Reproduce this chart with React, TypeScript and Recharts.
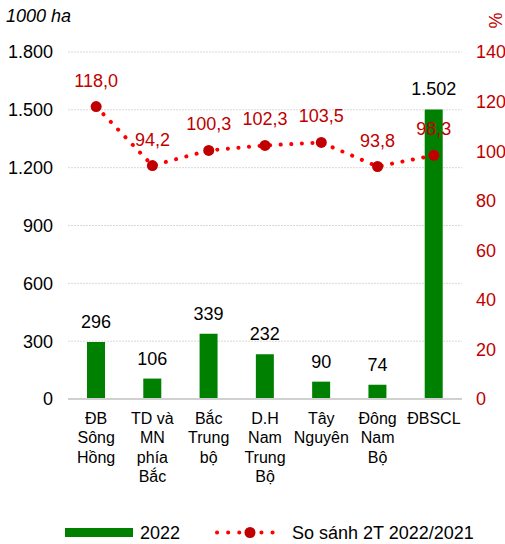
import React from "react";
import {
  ComposedChart,
  Bar,
  Line,
  XAxis,
  YAxis,
  CartesianGrid,
  LabelList,
} from "recharts";

const regions = [
  "ĐB\nSông\nHồng",
  "TD và\nMN\nphía\nBắc",
  "Bắc\nTrung\nbộ",
  "D.H\nNam\nTrung\nBộ",
  "Tây\nNguyên",
  "Đông\nNam\nBộ",
  "ĐBSCL",
];
const area2022 = [296, 106, 339, 232, 90, 74, 1502];
const compare = [118.0, 94.2, 100.3, 102.3, 103.5, 93.8, 98.3];
const leftTicks = [0, 300, 600, 900, 1200, 1500, 1800];
const rightTicks = [0, 20, 40, 60, 80, 100, 120, 140];

const data = regions.map((name, i) => ({
  name,
  area: area2022[i],
  pct: compare[i],
}));

const FONT = "'Liberation Sans', Arial, sans-serif";
const GREEN = "#008000";
const RED = "#ff0000";
const DARK_RED = "#c00000";

const fmtInt = (v: number) =>
  String(v).replace(/\B(?=(\d{3})+(?!\d))/g, ".");
const fmtDec = (v: number) => v.toFixed(1).replace(".", ",");

function RegionTick(props: any) {
  const { x, y, payload } = props;
  const lines = String(payload.value).split("\n");
  return (
    <text x={x} y={y} textAnchor="middle" fill="#000" fontSize={16} fontFamily={FONT}>
      {lines.map((l, i) => (
        <tspan key={i} x={x} y={y + 25 + i * 19.3}>
          {l}
        </tspan>
      ))}
    </text>
  );
}

export default function App() {
  return (
    <div
      style={{
        position: "absolute",
        left: 0,
        top: 0,
        width: 505,
        height: 544,
        overflow: "hidden",
        background: "#fff",
        fontFamily: FONT,
      }}
    >
      <ComposedChart
        width={540}
        height={544}
        data={data}
        margin={{ top: 52, right: 0, bottom: 45, left: 0 }}
        style={{ fontFamily: FONT }}
      >
        <CartesianGrid
          yAxisId="left"
          vertical={false}
          stroke="#d9d9d9"
          strokeDasharray="2 1"
        />
        <XAxis
          dataKey="name"
          interval={0}
          height={100}
          tickLine={false}
          tickSize={0}
          tickMargin={0}
          axisLine={{ stroke: "#d0d0d0", strokeWidth: 2 }}
          tick={<RegionTick />}
        />
        <YAxis
          yAxisId="left"
          width={68}
          domain={[0, 1800]}
          ticks={leftTicks}
          tickFormatter={fmtInt}
          axisLine={false}
          tickLine={false}
          tickSize={0}
          tickMargin={15}
          tick={{ fill: "#000", fontSize: 18 }}
        />
        <YAxis
          yAxisId="right"
          orientation="right"
          width={78}
          domain={[0, 140]}
          ticks={rightTicks}
          axisLine={false}
          tickLine={false}
          tickSize={0}
          tickMargin={14}
          tick={{ fill: DARK_RED, fontSize: 18 }}
        />
        <Bar
          yAxisId="left"
          dataKey="area"
          fill={GREEN}
          barSize={18}
          isAnimationActive={false}
        >
          <LabelList
            dataKey="area"
            position="top"
            offset={14}
            formatter={(v: any) => fmtInt(Number(v))}
            style={{ fill: "#000", fontSize: 18 }}
          />
        </Bar>
        <Line
          yAxisId="right"
          dataKey="pct"
          stroke={RED}
          strokeWidth={4}
          strokeLinecap="round"
          strokeDasharray="0.1 10.5"
          dot={{ r: 5.5, fill: DARK_RED, stroke: DARK_RED, strokeWidth: 0, strokeDasharray: "" }}
          activeDot={false}
          isAnimationActive={false}
        >
          <LabelList
            dataKey="pct"
            position="top"
            offset={20}
            formatter={(v: any) => fmtDec(Number(v))}
            style={{ fill: DARK_RED, fontSize: 18 }}
          />
        </Line>
      </ComposedChart>

      <div
        style={{
          position: "absolute",
          left: 6,
          top: 6,
          fontSize: 18,
          fontStyle: "italic",
          color: "#000",
        }}
      >
        1000 ha
      </div>
      <div
        style={{
          position: "absolute",
          left: 486,
          top: 10,
          fontSize: 18,
          color: DARK_RED,
          transform: "rotate(90deg)",
          transformOrigin: "center",
        }}
      >
        %
      </div>

      <div
        style={{
          position: "absolute",
          left: 0,
          top: 520,
          width: 505,
          height: 24,
          fontSize: 18,
          color: "#000",
        }}
      >
        <svg width={505} height={24} style={{ position: "absolute", left: 0, top: 0 }}>
          <rect x={65} y={8} width={68} height={9} fill={GREEN} />
          <line
            x1={217}
            x2={283}
            y1={12.5}
            y2={12.5}
            stroke={RED}
            strokeWidth={4}
            strokeLinecap="round"
            strokeDasharray="0.1 11"
          />
          <circle cx={250} cy={12.5} r={5.5} fill={DARK_RED} />
          <text x={140} y={19} fontSize={18} fontFamily={FONT} fill="#000">
            2022
          </text>
          <text x={292} y={19} fontSize={18} fontFamily={FONT} fill="#000">
            So sánh 2T 2022/2021
          </text>
        </svg>
      </div>
    </div>
  );
}
